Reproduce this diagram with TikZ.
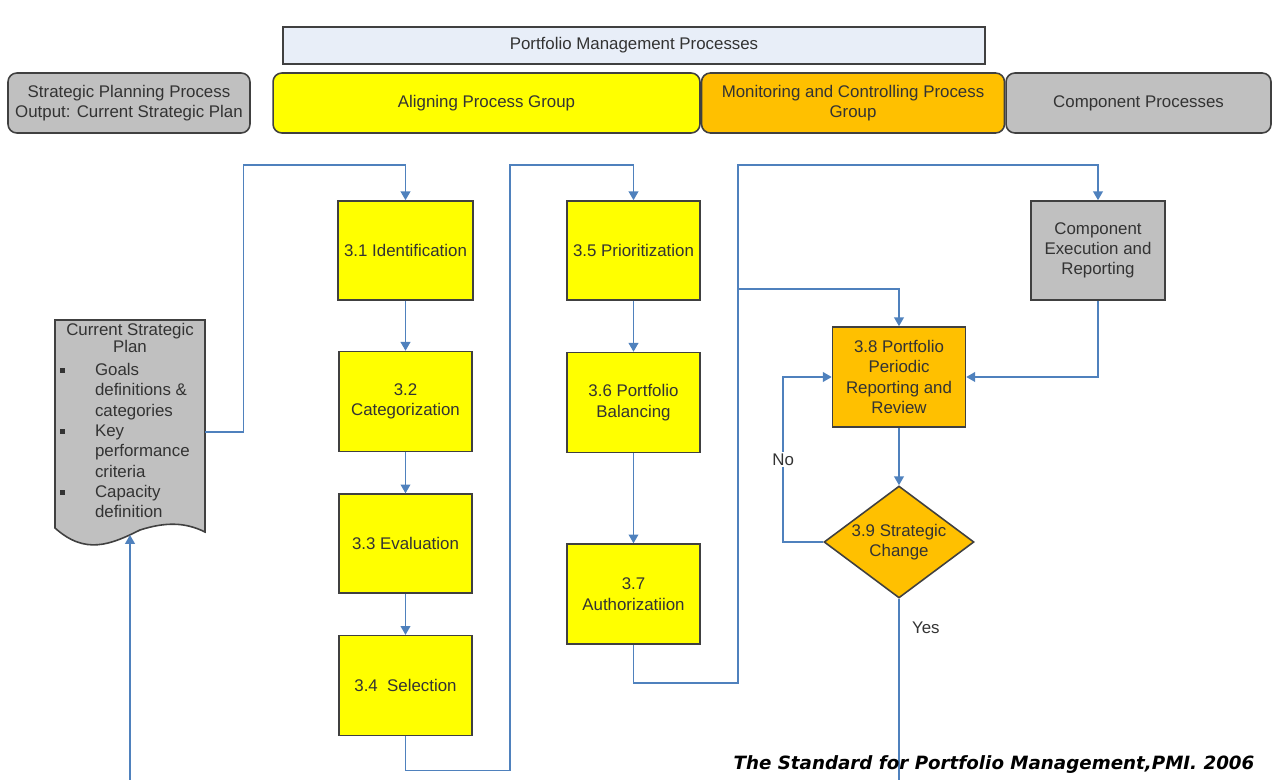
\documentclass[tikz,border=0pt]{standalone}
\usepackage{fontspec}
\setmainfont{Liberation Sans}
\newfontfamily\capfont{DejaVu Sans}
\usetikzlibrary{arrows.meta, shapes.geometric, positioning}
\definecolor{boxyellow}{RGB}{255,255,0}
\definecolor{boxorange}{RGB}{255,192,0}
\definecolor{boxgray}{RGB}{192,192,192}
\definecolor{headblue}{RGB}{232,238,248}
\definecolor{linkblue}{RGB}{79,129,189}
\definecolor{edgegray}{RGB}{64,64,64}
\newcommand{\planbullet}{\rule[0.3ex]{2.6pt}{2.6pt}}
\tikzset{
  stepbox/.style={
      draw=edgegray,
      line width=0.9pt,
      fill=boxyellow,
      rectangle,
      minimum width=2.66cm,
      minimum height=2cm,
      align=center,
      text=black!80,
      font=\fontsize{9.6}{11.5}\selectfont
  },
  reviewbox/.style={stepbox, fill=boxorange},
  compbox/.style={stepbox, fill=boxgray},
  groupbox/.style={
      draw=edgegray,
      line width=0.9pt,
      rectangle,
      rounded corners=5pt,
      minimum height=1.2cm,
      align=center,
      text=black!80,
      font=\fontsize{9.6}{11}\selectfont
  },
  headbox/.style={
      draw=edgegray,
      line width=0.8pt,
      fill=headblue,
      rectangle,
      minimum width=14.04cm,
      minimum height=0.74cm,
      text=black!80,
      font=\fontsize{9.6}{11}\selectfont
  },
  decision/.style={
      diamond,
      draw=edgegray,
      line width=0.9pt,
      fill=boxorange,
      aspect=1.34,
      inner sep=0pt,
      minimum width=3cm,
      minimum height=2.24cm,
      align=center,
      text=black!80,
      font=\fontsize{9.6}{11.5}\selectfont
  },
  docline/.style={draw=edgegray, line width=0.9pt, fill=boxgray},
  link/.style={draw=linkblue, line width=0.9pt, -{Triangle[width=5.5pt,length=5pt]}},
  plainlink/.style={draw=linkblue, line width=0.9pt},
  yesno/.style={text=black!80, font=\fontsize{9.6}{11}\selectfont, inner sep=1pt}
}

\begin{document}
\begin{tikzpicture}[x=0.02cm, y=-0.02cm]
      \useasboundingbox (0,0) rectangle (1276,780);
      % Header rows
      \node (pmp) [headbox] at (634,45.5) {Portfolio Management Processes};
      \node (spp) [groupbox, fill=boxgray, minimum width=4.84cm] at (129,103) {Strategic Planning Process\\Output: Current Strategic Plan};
      \node (apg) [groupbox, fill=boxyellow, minimum width=8.54cm] at (486.5,103) {Aligning Process Group};
      \node (mcpg) [groupbox, fill=boxorange, minimum width=6.06cm, right=0pt of apg] {Monitoring and Controlling Process\\Group};
      \node (cp) [groupbox, fill=boxgray, minimum width=5.3cm, right=0pt of mcpg] {Component Processes};

      % Current strategic plan (document)
      \draw[docline] (55,320) -- (205,320) -- (205,532) .. controls (185,522) and (165,522) .. (140,530) .. controls (110,545) and (85,555) .. (55,528) -- cycle;
      \node (plan) [rectangle, minimum width=3cm, minimum height=4.48cm] at (130,432) {};
      \node (plantext) [anchor=north, inner sep=0pt, text=black!80, font=\fontsize{9.6}{11.6}\selectfont] at (130,321) {%
        \begin{tabular}{@{}p{0.7cm}@{}p{2.1cm}@{}}
          \multicolumn{2}{@{}c@{}}{Current Strategic}\\[-1.9pt]
          \multicolumn{2}{@{}c@{}}{Plan}\\[1.3pt]
          \planbullet & Goals\\
          & definitions \&\\
          & categories\\
          \planbullet & Key\\
          & performance\\
          & criteria\\
          \planbullet & Capacity\\
          & definition
        \end{tabular}};
      \coordinate (planfoot) at (130,535);
      \coordinate (feedin) at (130,782);

      % Aligning steps
      \node (s31) [stepbox, minimum height=1.98cm] at (405.5,250.5) {3.1 Identification};
      \node (s32) [stepbox, below=1cm of s31] {3.2\\Categorization};
      \node (s33) [stepbox, minimum height=1.98cm, below=0.82cm of s32] {3.3 Evaluation};
      \node (s34) [stepbox, below=0.82cm of s33] {3.4\ \ Selection};
      \node (s35) [stepbox, minimum height=1.98cm] at (633.5,250.5) {3.5 Prioritization};
      \node (s36) [stepbox, below=1.02cm of s35] {3.6 Portfolio\\Balancing};
      \node (s37) [stepbox, below=1.8cm of s36] {3.7\\Authorizatiion};

      % Monitoring and components
      \node (cer) [compbox, minimum width=2.68cm, minimum height=1.98cm] at (1098,250.5) {Component\\Execution and\\Reporting};
      \node (s38) [reviewbox] at (899,377) {3.8 Portfolio\\Periodic\\Reporting and\\Review};
      \node (s39) [decision] at (899,542) {3.9 Strategic\\Change};
      \coordinate (yesout) at (899,782);

      % Connections
      \draw[link] (plan.east) -- ++(38,0) |- (300,165) -| (s31.north);
      \draw[link] (s31) -- (s32);
      \draw[link] (s32) -- (s33);
      \draw[link] (s33) -- (s34);
      \draw[link] (s34.south) -- ++(0,34) -| (510,165) -| (s35.north);
      \draw[link] (s35) -- (s36);
      \draw[link] (s36) -- (s37);
      \draw[link] (s37.south) -- ++(0,38) -| (738,165) -| (cer.north);
      \draw[link] (738,289) -| (s38.north);
      \draw[link] (cer.south) |- (s38.east);
      \draw[link] (s38) -- (s39);
      \draw[link] (s39.west) -- ++(-40,0) |- node[pos=0.25, fill=white, yesno] {No} (s38.west);
      \draw[plainlink] (s39.south) -- node[pos=0.16, right=6pt, yesno] {Yes} (yesout);
      \draw[link] (feedin) -- (planfoot);

      % Source
      \node (src) [font={\capfont\fontsize{10.4}{12}\selectfont\bfseries\itshape}, inner sep=0pt] at (994,765) {The Standard for Portfolio Management,PMI. 2006};
\end{tikzpicture}
\end{document}
